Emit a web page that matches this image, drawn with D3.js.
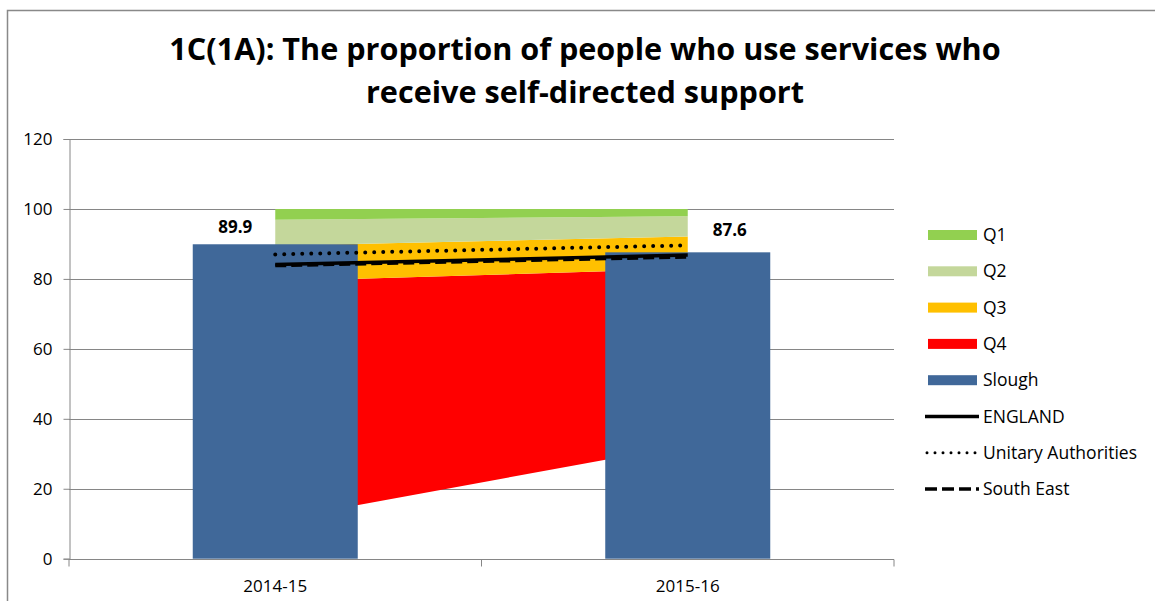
<!DOCTYPE html>
<html>
<head>
<meta charset="utf-8">
<script src="https://cdn.jsdelivr.net/npm/d3@7"></script>
<style>
  body { margin: 0; background: #fff; }
  svg { display: block; font-family: "Open Sans", sans-serif; }
</style>
</head>
<body>
<svg id="chart" width="1155" height="601"></svg>
<script>
const categories = ['2014-15', '2015-16'];
const slough = [89.9, 87.6];
const england = [84.1, 86.8];
const unitary = [87.0, 89.6];
const southEast = [83.8, 86.3];
// stacked quartile bands (bottom band is the blank base)
const areaBase = [11.0, 32.6];
const q4 = [68.3, 50.3];
const q3 = [10.2, 9.2];
const q2 = [7.4, 5.8];
const q1 = [3.1, 2.1];
const yTicks = [0, 20, 40, 60, 80, 100, 120];

const svg = d3.select('#chart');
const plotLeft = 69, plotRight = 894, plotTop = 139, plotBottom = 558.7;

const x = d3.scaleBand().domain(categories).range([plotLeft, plotRight]);
const y = d3.scaleLinear().domain([0, 120]).range([plotBottom, plotTop]);
const cx = c => x(c) + x.bandwidth() / 2;
const barW = x.bandwidth() * 0.4;

// chart border
svg.append('rect')
  .attr('x', 7.5).attr('y', 10.5).attr('width', 1200).attr('height', 700)
  .attr('fill', 'none').attr('stroke', '#898989').attr('stroke-width', 1.5);

// title
svg.append('text')
  .attr('text-anchor', 'middle').attr('font-weight', 'bold').attr('font-size', 30.6)
  .selectAll('tspan')
  .data(['1C(1A): The proportion of people who use services who', 'receive self-directed support'])
  .enter().append('tspan')
  .attr('x', 585).attr('y', (d, i) => 60 + i * 43)
  .text(d => d);

// gridlines
svg.append('g').selectAll('line')
  .data(yTicks.slice(1))
  .enter().append('line')
  .attr('x1', plotLeft).attr('x2', plotRight)
  .attr('y1', d => Math.round(y(d)) + 0.5).attr('y2', d => Math.round(y(d)) + 0.5)
  .attr('stroke', '#868686');

// stacked areas
const rows = categories.map((c, i) => ({
  cat: c, base: areaBase[i], q4: q4[i], q3: q3[i], q2: q2[i], q1: q1[i]
}));
const keys = ['base', 'q4', 'q3', 'q2', 'q1'];
const areaColors = { base: 'none', q4: '#FF0000', q3: '#FFC000', q2: '#C4D79B', q1: '#92D050' };
const stacked = d3.stack().keys(keys)(rows);
const area = d3.area()
  .x(d => cx(d.data.cat))
  .y0(d => y(d[0]))
  .y1(d => y(d[1]));
svg.append('g').selectAll('path')
  .data(stacked)
  .enter().append('path')
  .attr('d', area)
  .attr('fill', d => areaColors[d.key]);

// bars
svg.append('g').selectAll('rect')
  .data(categories)
  .enter().append('rect')
  .attr('x', d => cx(d) - barW / 2)
  .attr('width', barW)
  .attr('y', (d, i) => y(slough[i]))
  .attr('height', (d, i) => y(0) - y(slough[i]))
  .attr('fill', '#406899');

// comparator lines
const line = d3.line().x((d, i) => cx(categories[i])).y(d => y(d));
const lineStyles = [
  { data: england, dash: null, cap: 'butt' },
  { data: southEast, dash: '11,5', cap: 'butt' },
  { data: unitary, dash: '0,9', cap: 'round' }
];
svg.append('g').selectAll('path')
  .data(lineStyles)
  .enter().append('path')
  .attr('d', d => line(d.data))
  .attr('fill', 'none').attr('stroke', '#000')
  .attr('stroke-width', d => d.cap === 'round' ? 4 : 3.5)
  .attr('stroke-linecap', d => d.cap)
  .attr('stroke-dasharray', d => d.dash);

// data labels
const labelShift = [-40, 42];
const labelY = [233, 235.5];
svg.append('g').selectAll('text')
  .data(slough)
  .enter().append('text')
  .attr('x', (d, i) => cx(categories[i]) + labelShift[i])
  .attr('y', (d, i) => labelY[i])
  .attr('text-anchor', 'middle').attr('font-weight', 'bold').attr('font-size', 17)
  .text(d => d.toFixed(1));

// y axis
const yAxis = svg.append('g')
  .attr('transform', `translate(${plotLeft + 0.5},0)`)
  .call(d3.axisLeft(y).tickValues(yTicks).tickSize(6).tickPadding(11));
yAxis.select('.domain').attr('stroke', '#868686');
yAxis.selectAll('.tick line').attr('stroke', '#868686');
yAxis.selectAll('.tick text').attr('font-size', 17).attr('fill', '#000')
  .attr('font-family', '"Open Sans", sans-serif');

// x axis
const xAxis = svg.append('g')
  .attr('transform', `translate(0,${Math.round(plotBottom) + 0.5})`)
  .call(d3.axisBottom(x).tickSize(0).tickPadding(20));
xAxis.select('.domain').attr('stroke', '#868686').attr('d', `M${plotLeft},0H${plotRight}`);
xAxis.selectAll('.tick text').attr('font-size', 17).attr('fill', '#000')
  .attr('font-family', '"Open Sans", sans-serif');
xAxis.append('g').selectAll('line')
  .data([plotLeft, (plotLeft + plotRight) / 2, plotRight])
  .enter().append('line')
  .attr('x1', d => d).attr('x2', d => d).attr('y1', 0).attr('y2', 7)
  .attr('stroke', '#868686');

// legend
const legendItems = [
  { name: 'Q1', type: 'rect', color: '#92D050' },
  { name: 'Q2', type: 'rect', color: '#C4D79B' },
  { name: 'Q3', type: 'rect', color: '#FFC000' },
  { name: 'Q4', type: 'rect', color: '#FF0000' },
  { name: 'Slough', type: 'rect', color: '#406899' },
  { name: 'ENGLAND', type: 'line', dash: null, cap: 'butt' },
  { name: 'Unitary Authorities', type: 'line', dash: '0,8', cap: 'round' },
  { name: 'South East', type: 'line', dash: '12,5', cap: 'butt' }
];
const legend = svg.append('g').selectAll('g')
  .data(legendItems)
  .enter().append('g')
  .attr('transform', (d, i) => `translate(0,${235 + i * 36.3})`);
legend.filter(d => d.type === 'rect').append('rect')
  .attr('x', 928).attr('y', -5).attr('width', 49).attr('height', 10)
  .attr('fill', d => d.color);
legend.filter(d => d.type === 'line').append('line')
  .attr('x1', d => d.cap === 'round' ? 927 : 925).attr('x2', 979)
  .attr('stroke', '#000').attr('stroke-width', d => d.cap === 'round' ? 3 : 3.5)
  .attr('stroke-linecap', d => d.cap)
  .attr('stroke-dasharray', d => d.dash);
legend.append('text')
  .attr('x', 983).attr('dy', '0.35em').attr('font-size', 17.5)
  .text(d => d.name);
</script>
</body>
</html>
